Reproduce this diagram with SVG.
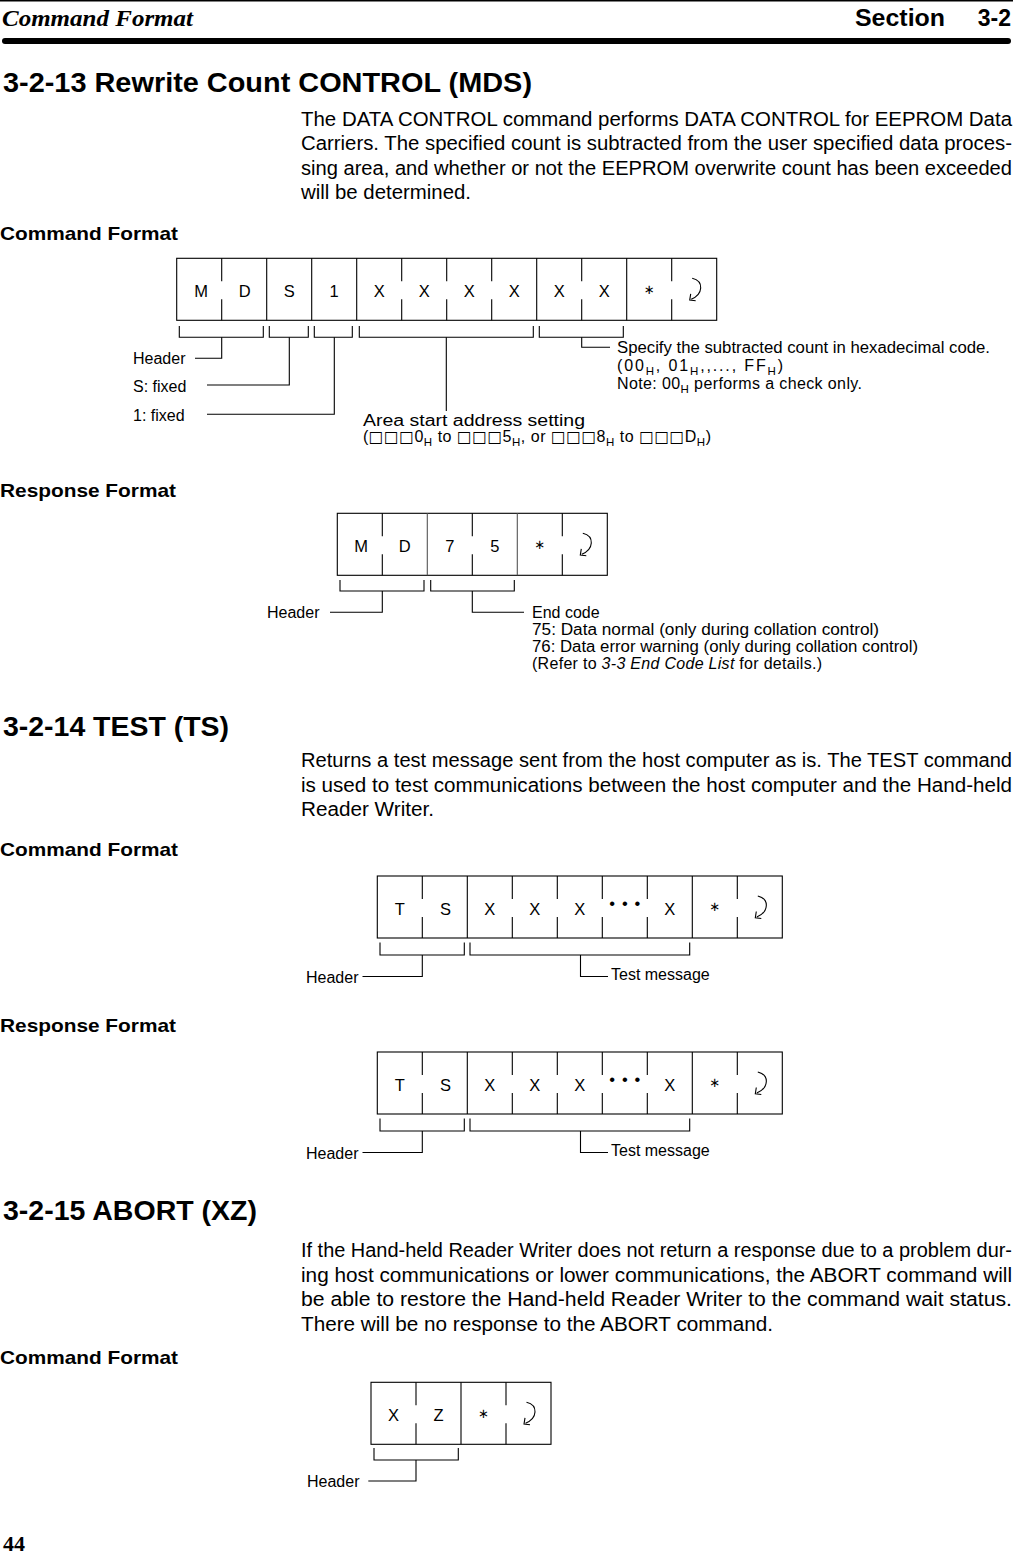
<svg xmlns="http://www.w3.org/2000/svg" width="1013" height="1558" viewBox="0 0 1013 1558">
<style>
  .bg{fill:#fff}
  .ln{fill:none;stroke:#000;stroke-width:1.1}
  .lg{fill:none;stroke:#555;stroke-width:1.1}
  .cell{font-family:"Liberation Sans","DejaVu Sans",sans-serif;font-size:16.5px;fill:#000;text-anchor:middle}
  .ast{font-family:"DejaVu Sans",sans-serif;font-size:13px;fill:#000;text-anchor:middle}
  .lab{font-family:"Liberation Sans","DejaVu Sans",sans-serif;font-size:16px;fill:#000}
  .sq{font-family:"DejaVu Sans",sans-serif;font-size:15.5px}
  .sub{font-size:11.5px}
  .body{font-family:"Liberation Sans",sans-serif;font-size:20px;fill:#000}
  .h{font-family:"Liberation Sans",sans-serif;font-size:27px;font-weight:bold;fill:#000}
  .fmt{font-family:"Liberation Sans",sans-serif;font-size:19px;font-weight:bold;fill:#000}
</style>
<defs>
  <g id="ret">
    <path d="M-2,20 C10,23 9,36 -3,41" fill="none" stroke="#000" stroke-width="1.1"/>
    <path d="M-3.5,35.5 L-4.5,41.8 L1.5,42.5" fill="none" stroke="#000" stroke-width="1.1"/>
  </g>
</defs>
<rect class="bg" x="0" y="0" width="1013" height="1558"/>

<!-- page header -->
<g id="page-header">
  <line x1="0" y1="0.7" x2="1013" y2="0.7" stroke="#000" stroke-width="1.4"/>
  <text x="2" y="26" font-family="Liberation Serif,serif" font-style="italic" font-weight="bold" font-size="23" textLength="191" lengthAdjust="spacingAndGlyphs">Command Format</text>
  <text x="855" y="26" font-family="Liberation Sans,sans-serif" font-weight="bold" font-size="23" textLength="90" lengthAdjust="spacingAndGlyphs">Section</text>
  <text x="1011" y="26" font-family="Liberation Sans,sans-serif" font-weight="bold" font-size="23" text-anchor="end">3-2</text>
  <rect x="2" y="38" width="1009" height="6" rx="3" fill="#000"/>
</g>

<!-- section 3-2-13 -->
<g id="sec-3-2-13">
  <text class="h" x="3" y="92" textLength="529" lengthAdjust="spacingAndGlyphs">3-2-13 Rewrite Count CONTROL (MDS)</text>
  <text class="body" x="301" y="125.5" textLength="711" lengthAdjust="spacingAndGlyphs">The DATA CONTROL command performs DATA CONTROL for EEPROM Data</text>
  <text class="body" x="301" y="150" textLength="711" lengthAdjust="spacingAndGlyphs">Carriers. The specified count is subtracted from the user specified data proces-</text>
  <text class="body" x="301" y="174.5" textLength="711" lengthAdjust="spacingAndGlyphs">sing area, and whether or not the EEPROM overwrite count has been exceeded</text>
  <text class="body" x="301" y="199" textLength="170" lengthAdjust="spacingAndGlyphs">will be determined.</text>
  <text class="fmt" x="0" y="240" textLength="178" lengthAdjust="spacingAndGlyphs">Command Format</text>
  <text class="fmt" x="0" y="497" textLength="176" lengthAdjust="spacingAndGlyphs">Response Format</text>
</g>

<!-- command frame MDS -->
<g id="frame-mds">
  <rect class="ln" x="176.7" y="258.3" width="540" height="62"/>
  <path class="ln" d="M221.7,258.3v23M221.7,299.3v21 M266.7,258.3v62 M311.7,258.3v62 M356.7,258.3v62 M401.7,258.3v23M401.7,299.3v21 M446.7,258.3v23M446.7,299.3v21 M491.7,258.3v23M491.7,299.3v21 M536.7,258.3v62 M581.7,258.3v23M581.7,299.3v21 M626.7,258.3v62 M671.7,258.3v23M671.7,299.3v21"/>
  <text class="cell" x="201" y="297">M</text>
  <text class="cell" x="244.7" y="297">D</text>
  <text class="cell" x="289.2" y="297">S</text>
  <text class="cell" x="334.2" y="297">1</text>
  <text class="cell" x="379.2" y="297">X</text>
  <text class="cell" x="424.2" y="297">X</text>
  <text class="cell" x="469.2" y="297">X</text>
  <text class="cell" x="514.2" y="297">X</text>
  <text class="cell" x="559.2" y="297">X</text>
  <text class="cell" x="604.2" y="297">X</text>
  <text class="ast" x="649.2" y="293.5">∗</text>
  <use href="#ret" x="694.2" y="258.3"/>
</g>

<g id="mds-labels">
  <text class="lab" x="133" y="364">Header</text>
  <text class="lab" x="133" y="391.5">S: fixed</text>
  <text class="lab" x="133" y="421">1: fixed</text>
  <text class="lab" x="363" y="425.5" textLength="222" lengthAdjust="spacingAndGlyphs">Area start address setting</text>
  <text class="lab" x="363" y="441.5" textLength="348" lengthAdjust="spacing">(<tspan class="sq">□□□</tspan>0<tspan class="sub" dy="4">H</tspan><tspan dy="-4"> to </tspan><tspan class="sq">□□□</tspan>5<tspan class="sub" dy="4">H</tspan><tspan dy="-4">, or </tspan><tspan class="sq">□□□</tspan>8<tspan class="sub" dy="4">H</tspan><tspan dy="-4"> to </tspan><tspan class="sq">□□□</tspan>D<tspan class="sub" dy="4">H</tspan><tspan dy="-4">)</tspan></text>
  <text class="lab" x="617" y="353" textLength="373" lengthAdjust="spacingAndGlyphs">Specify the subtracted count in hexadecimal code.</text>
  <text class="lab" x="617" y="371" textLength="166" lengthAdjust="spacing">(00<tspan class="sub" dy="4">H</tspan><tspan dy="-4">, 01</tspan><tspan class="sub" dy="4">H</tspan><tspan dy="-4">,,..., FF</tspan><tspan class="sub" dy="4">H</tspan><tspan dy="-4">)</tspan></text>
  <text class="lab" x="617" y="389" textLength="245" lengthAdjust="spacing">Note: 00<tspan class="sub" dy="4">H</tspan><tspan dy="-4"> performs a check only.</tspan></text>
</g>

<!-- response frame MD75 -->
<g id="frame-md75">
  <rect class="ln" x="337.3" y="513.3" width="270" height="62"/>
  <path class="ln" d="M382.3,513.3v23M382.3,554.3v21 M472.3,513.3v23M472.3,554.3v21 M562.3,513.3v23M562.3,554.3v21"/>
  <path class="lg" d="M427.3,513.3v62 M517.3,513.3v62"/>
  <text class="cell" x="361" y="552">M</text>
  <text class="cell" x="404.8" y="552">D</text>
  <text class="cell" x="449.8" y="552">7</text>
  <text class="cell" x="494.8" y="552">5</text>
  <text class="ast" x="539.8" y="548.5">∗</text>
  <use href="#ret" x="584.8" y="513.3"/>
</g>

<g id="md75-labels">
  <text class="lab" x="267" y="618">Header</text>
  <text class="lab" x="532" y="618">End code</text>
  <text class="lab" x="532" y="635" textLength="347" lengthAdjust="spacingAndGlyphs">75: Data normal (only during collation control)</text>
  <text class="lab" x="532" y="652" textLength="386" lengthAdjust="spacingAndGlyphs">76: Data error warning (only during collation control)</text>
  <text class="lab" x="532" y="669" textLength="290" lengthAdjust="spacing">(Refer to <tspan font-style="italic">3-3 End Code List</tspan> for details.)</text>
</g>

<!-- section 3-2-14 -->
<g id="sec-3-2-14">
  <text class="h" x="3" y="736" textLength="226" lengthAdjust="spacingAndGlyphs">3-2-14 TEST (TS)</text>
  <text class="body" x="301" y="767" textLength="711" lengthAdjust="spacingAndGlyphs">Returns a test message sent from the host computer as is. The TEST command</text>
  <text class="body" x="301" y="791.5" textLength="711" lengthAdjust="spacingAndGlyphs">is used to test communications between the host computer and the Hand-held</text>
  <text class="body" x="301" y="816" textLength="133" lengthAdjust="spacingAndGlyphs">Reader Writer.</text>
  <text class="fmt" x="0" y="856" textLength="178" lengthAdjust="spacingAndGlyphs">Command Format</text>
  <text class="fmt" x="0" y="1032" textLength="176" lengthAdjust="spacingAndGlyphs">Response Format</text>
</g>

<g id="frame-ts-cmd">
  <rect class="ln" x="377.3" y="876" width="405" height="62"/>
  <path class="ln" d="M422.3,876v23M422.3,917v21 M467.3,876v62 M512.3,876v23M512.3,917v21 M557.3,876v23M557.3,917v21 M602.3,876v23M602.3,917v21 M647.3,876v23M647.3,917v21 M692.3,876v62 M737.3,876v23M737.3,917v21"/>
  <text class="cell" x="399.8" y="914.7">T</text>
  <text class="cell" x="445.5" y="914.7">S</text>
  <text class="cell" x="489.8" y="914.7">X</text>
  <text class="cell" x="534.8" y="914.7">X</text>
  <text class="cell" x="579.8" y="914.7">X</text>
  <text class="cell" x="624.8" y="909" font-size="12" textLength="31" lengthAdjust="spacing">• • •</text>
  <text class="cell" x="669.8" y="914.7">X</text>
  <text class="ast" x="714.8" y="911">∗</text>
  <use href="#ret" x="759.8" y="876"/>
</g>

<g id="frame-ts-resp">
  <rect class="ln" x="377.3" y="1052" width="405" height="62"/>
  <path class="ln" d="M422.3,1052v23M422.3,1093v21 M467.3,1052v62 M512.3,1052v23M512.3,1093v21 M557.3,1052v23M557.3,1093v21 M602.3,1052v23M602.3,1093v21 M647.3,1052v23M647.3,1093v21 M692.3,1052v62 M737.3,1052v23M737.3,1093v21"/>
  <text class="cell" x="399.8" y="1090.7">T</text>
  <text class="cell" x="445.5" y="1090.7">S</text>
  <text class="cell" x="489.8" y="1090.7">X</text>
  <text class="cell" x="534.8" y="1090.7">X</text>
  <text class="cell" x="579.8" y="1090.7">X</text>
  <text class="cell" x="624.8" y="1085" font-size="12" textLength="31" lengthAdjust="spacing">• • •</text>
  <text class="cell" x="669.8" y="1090.7">X</text>
  <text class="ast" x="714.8" y="1087">∗</text>
  <use href="#ret" x="759.8" y="1052"/>
</g>

<g id="ts-labels">
  <text class="lab" x="306" y="982.5">Header</text>
  <text class="lab" x="611" y="980">Test message</text>
  <text class="lab" x="306" y="1158.5">Header</text>
  <text class="lab" x="611" y="1156">Test message</text>
</g>

<!-- section 3-2-15 -->
<g id="sec-3-2-15">
  <text class="h" x="3" y="1220" textLength="254" lengthAdjust="spacingAndGlyphs">3-2-15 ABORT (XZ)</text>
  <text class="body" x="301" y="1257" textLength="711" lengthAdjust="spacingAndGlyphs">If the Hand-held Reader Writer does not return a response due to a problem dur-</text>
  <text class="body" x="301" y="1281.5" textLength="711" lengthAdjust="spacingAndGlyphs">ing host communications or lower communications, the ABORT command will</text>
  <text class="body" x="301" y="1306" textLength="711" lengthAdjust="spacingAndGlyphs">be able to restore the Hand-held Reader Writer to the command wait status.</text>
  <text class="body" x="301" y="1330.5" textLength="472" lengthAdjust="spacingAndGlyphs">There will be no response to the ABORT command.</text>
  <text class="fmt" x="0" y="1364" textLength="178" lengthAdjust="spacingAndGlyphs">Command Format</text>
</g>

<g id="frame-xz">
  <rect class="ln" x="371" y="1382.3" width="180" height="62"/>
  <path class="ln" d="M416,1382.3v23M416,1423.3v21 M461,1382.3v62 M506,1382.3v23M506,1423.3v21"/>
  <text class="cell" x="393.5" y="1421">X</text>
  <text class="cell" x="438.5" y="1421">Z</text>
  <text class="ast" x="483.5" y="1417.5">∗</text>
  <use href="#ret" x="528.5" y="1382.3"/>
</g>

<g id="xz-labels">
  <text class="lab" x="307" y="1487">Header</text>
</g>

<!-- connectors: brackets and leader lines -->
<g id="connectors" class="ln">
  <path d="M179.3,326V337.3H263.3V326 M269.3,326V337.3H308.3V326 M314.3,326V337.3H352.3V326 M359.3,326V337.3H533.3V326 M539.3,326V337.3H623.3V326"/>
  <path d="M221.7,337.3V358.3H195 M289.3,337.3V385H207 M334.3,337.3V414.3H207 M446.3,337.3V411 M581.7,337.3V347.3H610"/>
  <path d="M340,580V591H424V580 M430.7,580V591H514.3V580"/>
  <path d="M382.3,591V612.3H330 M472.3,591V612.3H524"/>
  <path d="M380,942.5V955H464.3V942.5 M470,942.5V955H689.7V942.5"/>
  <path d="M422.3,955V976.5H362.5 M580.5,955V976.5H608"/>
  <path d="M380,1118.5V1131H464.3V1118.5 M470,1118.5V1131H689.7V1118.5"/>
  <path d="M422.3,1131V1152.5H362.5 M580.5,1131V1152.5H608"/>
  <path d="M374,1448V1460H458.3V1448"/>
  <path d="M416,1460V1481H368.3"/>
</g>

<g id="footer">
  <text x="3" y="1551" font-family="Liberation Serif,serif" font-weight="bold" font-size="22">44</text>
</g>
</svg>
